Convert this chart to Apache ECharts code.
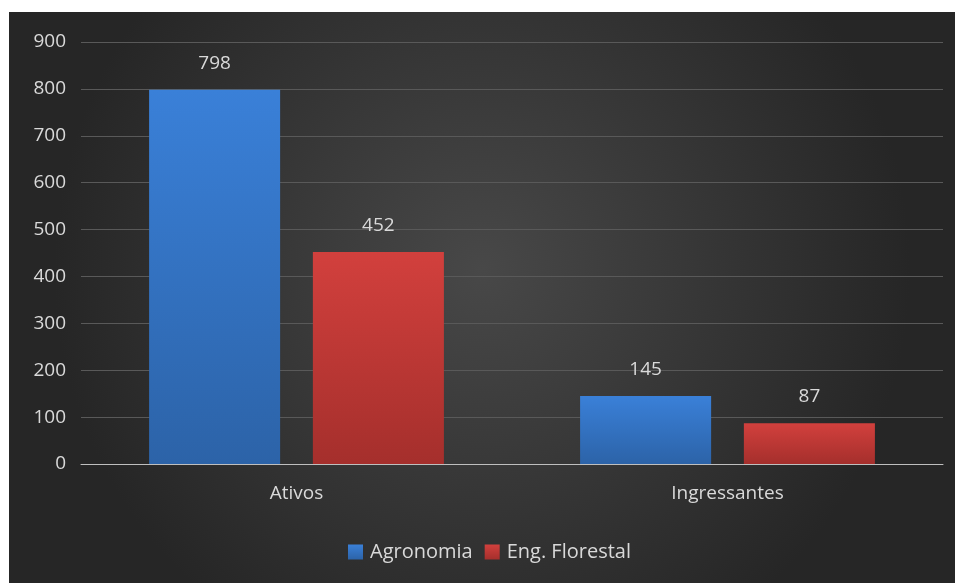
<!DOCTYPE html>
<html><head><meta charset="utf-8">
<script src="https://cdn.jsdelivr.net/npm/echarts@6/dist/echarts.min.js"></script>
<style>
html,body{margin:0;padding:0;background:#fff;width:955px;height:583px;overflow:hidden;}
#c{position:absolute;left:9px;top:12px;width:946px;height:571px;}
</style></head><body>
<div id="c"></div>
<script>
const categories = ['Ativos', 'Ingressantes'];
const agronomia = [798, 145];
const engFlorestal = [452, 87];
const seriesNames = ['Agronomia', 'Eng. Florestal'];

const font = '"Open Sans", "Noto Sans", sans-serif';
const fs = 19;
const txt = '#d9d9d9';
const chart = echarts.init(document.getElementById('c'), null, {renderer: 'canvas'});
function grad(top, bottom) {
  return new echarts.graphic.LinearGradient(0, 0, 0, 1, [{offset: 0, color: top}, {offset: 1, color: bottom}]);
}
chart.setOption({
  backgroundColor: new echarts.graphic.RadialGradient(0.5, 0.45, 0.75, [
    {offset: 0, color: '#484848'}, {offset: 1, color: '#262626'}
  ]),
  animation: false,
  grid: {left: 72, right: 12, top: 30, bottom: 119, containLabel: false},
  legend: {
    data: seriesNames, bottom: 16, left: 334, itemWidth: 15, itemHeight: 15, itemGap: 12,
    icon: 'rect',
    textStyle: {color: txt, fontSize: 20, fontFamily: font, padding: [0, 0, 0, 2]}
  },
  xAxis: {
    type: 'category', data: categories,
    axisLine: {lineStyle: {color: '#bfbfbf', width: 1}},
    axisTick: {show: false},
    axisLabel: {color: txt, fontSize: fs, fontFamily: font, margin: 20}
  },
  yAxis: {
    type: 'value', min: 0, max: 900, interval: 100,
    axisLine: {show: false}, axisTick: {show: false},
    axisLabel: {color: txt, fontSize: fs, fontFamily: font, margin: 15},
    splitLine: {lineStyle: {color: '#595959', width: 1}}
  },
  series: [
    {
      name: seriesNames[0], type: 'bar', data: agronomia, barWidth: '30.4%', barGap: '25%',
      itemStyle: {color: grad('#3a80d8', '#2c63a8')},
      label: {show: true, position: 'top', distance: 17, color: txt, fontSize: fs, fontFamily: font}
    },
    {
      name: seriesNames[1], type: 'bar', data: engFlorestal, barWidth: '30.4%',
      itemStyle: {color: grad('#d2403d', '#a52f2c')},
      label: {show: true, position: 'top', distance: 17, color: txt, fontSize: fs, fontFamily: font}
    }
  ]
});
</script>
</body></html>
